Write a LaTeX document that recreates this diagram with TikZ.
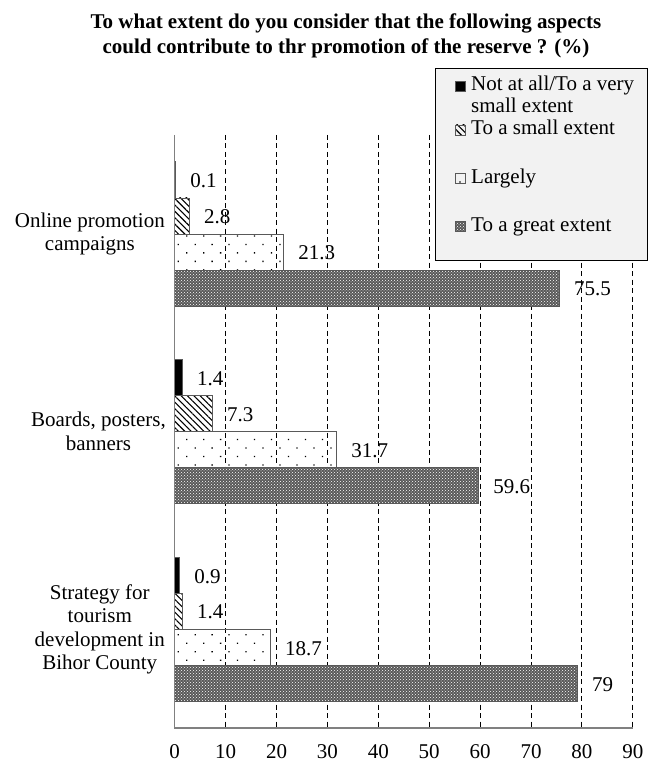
\documentclass[tikz,border=0pt]{standalone}
\usepackage{fontspec}
\setmainfont{Liberation Serif}
\usetikzlibrary{patterns,patterns.meta}

\begin{document}
\begin{tikzpicture}[x=1pt, y=-1pt, font=\fontsize{21}{23.5}\selectfont]
\tikzstyle{gridline} = [line width=0.9pt, dash pattern=on 5pt off 3.5pt]
\tikzstyle{axis} = [draw=gray, line width=1.2pt]
\tikzstyle{bar} = [draw=gray!70!black, line width=0.6pt]
\tikzstyle{notatall} = [bar, fill=black]
\tikzstyle{smallext} = [bar, pattern={Lines[angle=-45, distance=4.5pt, line width=1.1pt]}]
\tikzstyle{largely} = [bar, pattern={Dots[angle=45, distance=12pt, radius=0.9pt]}]
\tikzstyle{greatext} = [bar, preaction={fill=black!65}, pattern=crosshatch dots, pattern color=white]
\tikzstyle{val} = [anchor=west, inner sep=0pt]
\tikzstyle{cat} = [anchor=east, align=center, inner sep=0pt]
\tikzstyle{legtext} = [anchor=base west, align=left, inner sep=0pt, font=\fontsize{21}{21.5}\selectfont]

\useasboundingbox (0,0) rectangle (648,762);

\node[font=\bfseries\fontsize{21}{25}\selectfont, align=center] (title) at (346, 36)
  {To what extent do you consider that the following aspects\\could contribute to thr promotion of the reserve ? (\%)};

% grid and axis
\foreach \t in {10,20,...,90}
  \draw[gridline] (174.7+5.09*\t, 135) -- (174.7+5.09*\t, 728);
\foreach \t in {0,10,...,90}
  \node[anchor=base, inner sep=0pt] (tick\t) at (174.7+5.09*\t, 758.5) {\t};

% bars
\foreach \cat/\cy/\a/\b/\c/\d in {online/233.8/0.1/2.8/21.3/75.5, boards/431.5/1.4/7.3/31.7/59.6, strategy/629.2/0.9/1.4/18.7/79} {
  \foreach \v/\k/\sty in {\a/0/notatall, \b/1/smallext, \c/2/largely, \d/3/greatext} {
    \draw[style=\sty] (174.7, \cy-72+36*\k) rectangle ++(5.09*\v, 36);
    \node[val] (\cat-\k) at (174.7+5.09*\v+15, \cy-53+36*\k) {\v};
  }
}
\draw[axis] (174.7,135) -- (174.7,728) -- (632.8,728);

\node[cat] (online) at (165, 233.8) {Online promotion\\campaigns};
\node[cat] (boards) at (166, 431.5) {Boards, posters,\\banners};
\node[cat] (strategy) at (165, 629.2) {Strategy for\\tourism\\development in\\Bihor County};

% legend
\draw[fill=black!5, line width=1pt] (435.5,69) rectangle (647.5,260);
\draw[notatall] (455,81.5) rectangle ++(10,10);
\draw[smallext] (455,125) rectangle ++(10,10);
\draw[largely, pattern={Dots[distance=20pt, radius=0.8pt]}] (455,173) rectangle ++(10,10);
\draw[greatext] (455,221) rectangle ++(10,10);
\node[legtext] (leg0) at (471, 112.5) {Not at all/To a very\\small extent};
\node[legtext] (leg1) at (471, 135) {To a small extent};
\node[legtext] (leg2) at (471, 183) {Largely};
\node[legtext] (leg3) at (471, 231) {To a great extent};
\end{tikzpicture}
\end{document}
